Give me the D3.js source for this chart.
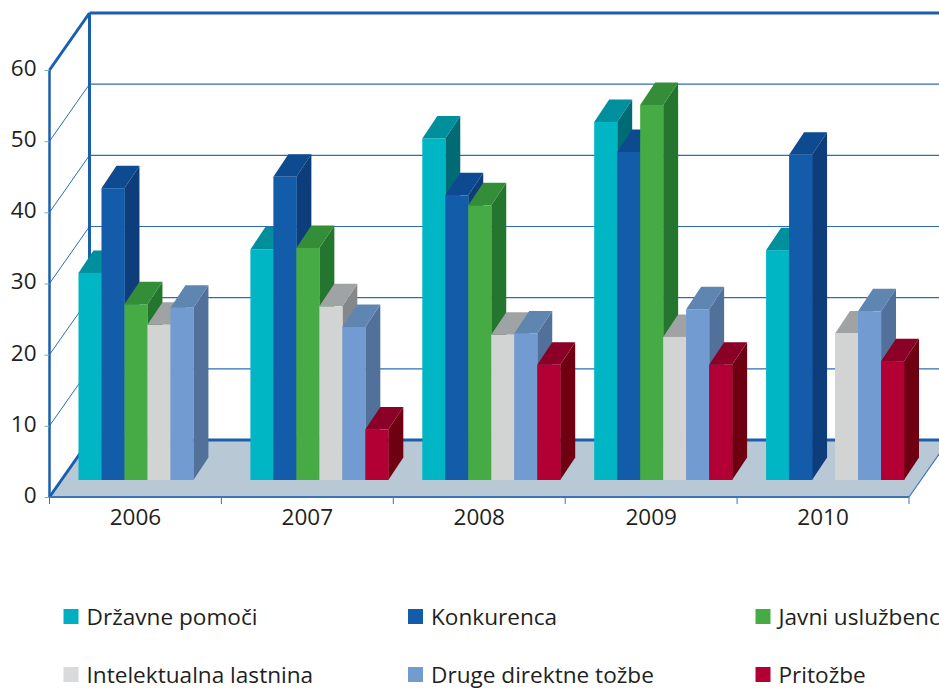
<!DOCTYPE html>
<html>
<head>
<meta charset="utf-8">
<script src="https://cdn.jsdelivr.net/npm/d3@7"></script>
<style>
  html, body { margin: 0; padding: 0; background: #fff; overflow: hidden; }
  text { font-family: "Open Sans", sans-serif; fill: #231f20; }
</style>
</head>
<body>
<svg id="chart" width="939" height="689"></svg>
<script>
var years = ["2006", "2007", "2008", "2009", "2010"];
var seriesNames = ["Državne pomoči", "Konkurenca", "Javni uslužbenci", "Intelektualna lastnina", "Druge direktne tožbe", "Pritožbe"];
var drzavne = [29.1, 32.4, 48.0, 50.3, 32.3];
var konkurenca = [41.0, 42.6, 40.0, 46.1, 45.7];
var javni = [24.7, 32.6, 38.6, 52.7, null];
var intelektualna = [21.8, 24.4, 20.4, 20.1, 20.6];
var druge = [24.2, 21.5, 20.6, 24.0, 23.7];
var pritozbe = [null, 7.1, 16.2, 16.2, 16.7];
var seriesValues = [drzavne, konkurenca, javni, intelektualna, druge, pritozbe];
var yTicks = [0, 10, 20, 30, 40, 50, 60];

// front, top, side
var colors = [
  ["#00b5c4", "#008f9c", "#006b75"],
  ["#135ca9", "#0e4a8f", "#0d3d7a"],
  ["#46ab45", "#348e38", "#24762e"],
  ["#d2d4d3", "#a0a3a4", "#85888a"],
  ["#729bd1", "#5f85b1", "#52719a"],
  ["#b20034", "#8a0026", "#6e0012"]
];
var legendColors = ["#00b0c2", "#135ca9", "#46ab45", "#d9dadb", "#729bd1", "#b20034"];

var svg = d3.select("#chart");

var left = 49.5, right = 909, bottom = 497, top60 = 70;
// wall depth, and how far the bars sit in from the front edge of the floor
var wallDx = 40, wallDy = -57;
var floorDx = 12, floorDy = -17;
var barDx = 15, barDy = -22.5;

var y = d3.scaleLinear().domain([0, 60]).range([bottom, top60]);
var x = d3.scaleBand().domain(years).range([left, right]);
var x1 = d3.scaleBand().domain(seriesNames).range([0, x.bandwidth()]).paddingInner(0).paddingOuter(17 / 23);

var axisBlue = "#1a5fae", gridBlue = "#2c6db6";

// floor
svg.append("polygon")
  .attr("points", [[left, bottom], [left + wallDx, bottom + wallDy], [right + wallDx, bottom + wallDy], [right, bottom]].join(" "))
  .attr("fill", "#b8c8d5");

// grid lines on both walls
var gridTicks = yTicks.filter(function(d) { return d > 0 && d < 60; });
svg.append("g").selectAll("line").data(gridTicks).enter().append("line")
  .attr("x1", left).attr("y1", function(d) { return y(d); })
  .attr("x2", left + wallDx).attr("y2", function(d) { return y(d) + wallDy; })
  .attr("stroke", gridBlue).attr("stroke-width", 1);
svg.append("g").selectAll("line").data(gridTicks).enter().append("line")
  .attr("x1", left + wallDx).attr("y1", function(d) { return y(d) + wallDy; })
  .attr("x2", right + wallDx).attr("y2", function(d) { return y(d) + wallDy; })
  .attr("stroke", gridBlue).attr("stroke-width", 1.2);

// wall frame
function frameLine(x1p, y1p, x2p, y2p, w, col) {
  svg.append("line").attr("x1", x1p).attr("y1", y1p).attr("x2", x2p).attr("y2", y2p)
    .attr("stroke", col || axisBlue).attr("stroke-width", w);
}
frameLine(left + wallDx, y(60) + wallDy, left + wallDx, y(0) + wallDy, 3);
frameLine(left + wallDx, y(60) + wallDy, right + wallDx, y(60) + wallDy, 3);
frameLine(left, y(60), left + wallDx, y(60) + wallDy, 3);
frameLine(left, y(0), left + wallDx, y(0) + wallDy, 3);
frameLine(left + wallDx, y(0) + wallDy, right + wallDx, y(0) + wallDy, 3);
frameLine(right, y(0), right + wallDx, y(0) + wallDy, 1.2, "#3b75b5");

// bars, painted left to right so each one covers the side of the last
var bars = [];
years.forEach(function(yr, i) {
  seriesNames.forEach(function(name, s) {
    if (seriesValues[s][i] != null) bars.push({year: yr, name: name, s: s, value: seriesValues[s][i]});
  });
});

var barG = svg.append("g").selectAll("g").data(bars).enter().append("g");
function bx(d) { return x(d.year) + x1(d.name) + floorDx; }
function by(d) { return y(d.value) + floorDy; }
var baseY = y(0) + floorDy;
var bw = x1.bandwidth();

barG.append("polygon") // side
  .attr("points", function(d) {
    var a = bx(d) + bw, t = by(d);
    return [[a, t], [a + barDx, t + barDy], [a + barDx, baseY + barDy], [a, baseY]].join(" ");
  })
  .attr("fill", function(d) { return colors[d.s][2]; });
barG.append("polygon") // top
  .attr("points", function(d) {
    var a = bx(d), t = by(d);
    return [[a, t], [a + barDx, t + barDy], [a + bw + barDx, t + barDy], [a + bw, t]].join(" ");
  })
  .attr("fill", function(d) { return colors[d.s][1]; });
barG.append("rect") // front
  .attr("x", bx).attr("y", by)
  .attr("width", bw + 0.3)
  .attr("height", function(d) { return baseY - by(d); })
  .attr("fill", function(d) { return colors[d.s][0]; });

// y axis
var yAxis = d3.axisLeft(y).tickValues(yTicks).tickSize(5).tickPadding(8);
var yG = svg.append("g").attr("transform", "translate(" + left + ",0)").call(yAxis);
yG.select(".domain").attr("stroke", axisBlue).attr("stroke-width", 2.5).attr("d", "M0," + y(60) + "V" + y(0));
yG.selectAll(".tick line").attr("stroke", "#7ba3d3").attr("stroke-width", 1);
yG.selectAll("text").style("font-size", "22.5px").attr("dy", "0.24em");

// x axis, ticks fall on the band edges
var xAxis = d3.axisBottom(x).tickSize(0).tickPadding(12);
var xG = svg.append("g").attr("transform", "translate(0," + bottom + ")").call(xAxis);
xG.select(".domain").attr("stroke", "#3b75b5").attr("stroke-width", 2.2).attr("d", "M" + left + ",0H" + right);
xG.selectAll("text").style("font-size", "22.5px");
xG.selectAll(".edge").data(years.map(function(d) { return x(d); }).concat([right])).enter().append("line")
  .attr("class", "edge")
  .attr("x1", function(d) { return d; }).attr("x2", function(d) { return d; })
  .attr("y1", 0).attr("y2", 7)
  .attr("stroke", "#3b75b5").attr("stroke-width", 1);

// legend
var legendX = d3.scaleOrdinal().domain([0, 1, 2]).range([63.5, 408, 755.5]);
var legendY = d3.scalePoint().domain([0, 1]).range([609, 667]);
var legend = svg.append("g").selectAll("g").data(seriesNames).enter().append("g")
  .attr("transform", function(d, i) { return "translate(" + legendX(i % 3) + "," + legendY(Math.floor(i / 3)) + ")"; });
legend.append("rect").attr("width", 15).attr("height", 15)
  .attr("fill", function(d, i) { return legendColors[i]; });
legend.append("text").attr("x", 23).attr("y", 16)
  .style("font-size", "22.6px")
  .text(function(d) { return d; });
</script>
</body>
</html>
